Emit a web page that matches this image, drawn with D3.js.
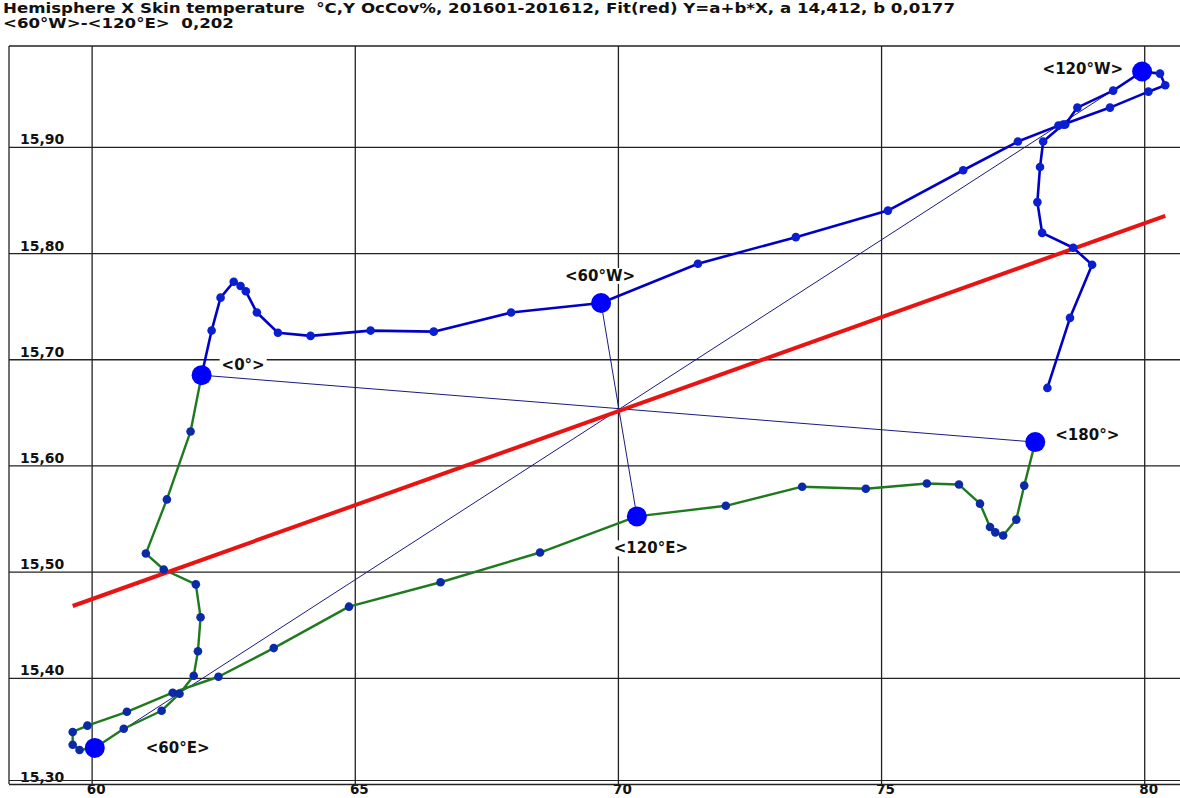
<!DOCTYPE html>
<html>
<head>
<meta charset="utf-8">
<script src="https://cdn.jsdelivr.net/npm/d3@7"></script>
<style>
  html, body { margin: 0; padding: 0; background: #fff; }
  svg { display: block; font-family: "DejaVu Sans", Verdana, sans-serif; font-weight: bold; }
  .title text { white-space: pre; }
</style>
</head>
<body>
<svg width="1180" height="798"></svg>
<script>
const titleLines = [
    "Hemisphere X Skin temperature  °C,Y OcCov%, 201601-201612, Fit(red) Y=a+b*X, a 14,412, b 0,0177",
    "<60°W>-<120°E>  0,202"
];

const xTicks = [60, 65, 70, 75, 80];
const yTicks = [15.30, 15.40, 15.50, 15.60, 15.70, 15.80, 15.90];

// fit Y = a + b*X
const fitA = 14.412;
const fitB = 0.0177;

// blue part: 0° -> 60°W -> 120°W -> towards 180°
const blueX = [62.09, 62.28, 62.45, 62.70, 62.83, 62.93, 63.14, 63.54, 64.16, 65.30, 66.50, 67.97,
               69.68, 71.52, 73.38, 75.13, 76.56, 77.60, 78.37, 78.50, 78.73, 79.41,
               79.96, 80.30, 80.40, 80.08, 79.35, 78.46, 78.08, 78.02, 77.97, 78.06, 78.65, 79.01, 78.59, 78.16];
const blueY = [15.685, 15.727, 15.758, 15.773, 15.769, 15.764, 15.744, 15.725, 15.722, 15.727, 15.726, 15.744,
               15.753, 15.790, 15.815, 15.840, 15.878, 15.905, 15.920, 15.921, 15.937, 15.953,
               15.971, 15.969, 15.958, 15.952, 15.937, 15.921, 15.905, 15.881, 15.848, 15.819, 15.805, 15.789, 15.739, 15.673];

// green part: 180° -> 120°E -> 60°E -> 0°
const greenX = [77.93, 77.72, 77.57, 77.32, 77.17, 77.07, 76.88, 76.48, 75.87, 74.71, 73.50, 72.05,
                70.36, 68.52, 66.63, 64.89, 63.46, 62.41, 61.54, 60.67, 59.92, 59.64, 59.64, 59.77,
                60.06, 60.61, 61.33, 61.67, 61.94, 62.02, 62.07, 61.98, 61.37, 61.03, 61.43, 61.88,
                62.09];
const greenY = [15.622, 15.581, 15.549, 15.534, 15.537, 15.542, 15.564, 15.582, 15.583, 15.578, 15.580, 15.562,
                15.552, 15.518, 15.490, 15.467, 15.428, 15.401, 15.386, 15.368, 15.355, 15.349, 15.337, 15.332,
                15.334, 15.352, 15.369, 15.385, 15.402, 15.425, 15.457, 15.488, 15.502, 15.517, 15.568, 15.632,
                15.685];

// labelled longitudes
const keyNames = ["<0°>", "<60°W>", "<120°W>", "<180°>", "<120°E>", "<60°E>"];
const keyX = [62.09, 69.68, 79.96, 77.93, 70.36, 60.06];
const keyY = [15.685, 15.753, 15.971, 15.622, 15.552, 15.334];
// opposite pairs joined by thin lines
const keyPairs = [[0, 3], [1, 4], [2, 5]];

const svg = d3.select("svg");
const plot = { left: 9, top: 46, bottom: 784, right: 1180 };

const x = d3.scaleLinear().domain([58.43, 80.68]).range([plot.left, plot.right]);
const y = d3.scaleLinear().domain([15.30, 15.995]).range([plot.bottom, plot.top]);

// title, squeezed to the width of the original
const title = svg.append("g").attr("class", "title");
titleLines.forEach((t, i) => {
    title.append("text")
        .attr("x", 3)
        .attr("y", 13 + i * 15)
        .attr("font-size", 13.5)
        .attr("fill", "#111")
        .text(t);
});
const len = title.select("text").node().getComputedTextLength();
const squeeze = 952 / len;
title.selectAll("text").each(function() {
    const w = this.getComputedTextLength();
    d3.select(this).attr("textLength", w * squeeze).attr("lengthAdjust", "spacingAndGlyphs");
});

// grid via axes
const gx = svg.append("g")
    .attr("transform", `translate(0,${plot.bottom})`)
    .call(d3.axisBottom(x).tickValues(xTicks).tickFormat(d3.format("d"))
        .tickSize(-(plot.bottom - plot.top)).tickPadding(4));
gx.select(".domain").remove();
gx.selectAll("line").attr("stroke", "#222").attr("stroke-width", 1.3);
gx.selectAll("text")
    .attr("font-family", "DejaVu Sans")
    .attr("font-weight", "bold")
    .attr("font-size", 13.5)
    .attr("fill", "#111")
    .attr("dx", 4)
    .attr("y", 0)
    .attr("dy", 10);

const gy = svg.append("g")
    .attr("transform", `translate(${plot.left},0)`)
    .call(d3.axisRight(y).tickValues(yTicks)
        .tickFormat(d => d3.format(".2f")(d).replace(".", ","))
        .tickSize(plot.right - plot.left));
gy.select(".domain").remove();
gy.selectAll("line").attr("stroke", "#222").attr("stroke-width", 1.3);
gy.selectAll("text")
    .attr("font-family", "DejaVu Sans")
    .attr("font-weight", "bold")
    .attr("font-size", 14)
    .attr("fill", "#111")
    .attr("x", 11)
    .attr("dy", -3)
    .attr("text-anchor", "start");

// frame
svg.append("line").attr("x1", plot.left).attr("x2", plot.right).attr("y1", plot.top).attr("y2", plot.top)
    .attr("stroke", "#222").attr("stroke-width", 1.3);
svg.append("line").attr("x1", plot.left).attr("x2", plot.left).attr("y1", plot.top).attr("y2", plot.bottom)
    .attr("stroke", "#222").attr("stroke-width", 1.3);
svg.append("line").attr("x1", plot.left).attr("x2", plot.right).attr("y1", plot.bottom - 3.5).attr("y2", plot.bottom - 3.5)
    .attr("stroke", "#222").attr("stroke-width", 1.2);

// thin lines between opposite longitudes
svg.selectAll(".pair")
    .data(keyPairs)
    .enter()
    .append("line")
    .attr("x1", d => x(keyX[d[0]]))
    .attr("y1", d => y(keyY[d[0]]))
    .attr("x2", d => x(keyX[d[1]]))
    .attr("y2", d => y(keyY[d[1]]))
    .attr("stroke", "#1a1a80")
    .attr("stroke-width", 1);

const blue = blueX.map((v, i) => [v, blueY[i]]);
const green = greenX.map((v, i) => [v, greenY[i]]);
const line = d3.line().x(d => x(d[0])).y(d => y(d[1]));

svg.append("path").attr("d", line(blue))
    .attr("fill", "none").attr("stroke", "#0000c8").attr("stroke-width", 2.6)
    .attr("stroke-linejoin", "round");
svg.append("path").attr("d", line(green))
    .attr("fill", "none").attr("stroke", "#1f7a1f").attr("stroke-width", 2.4)
    .attr("stroke-linejoin", "round");

// fit line over the x range of the data
const [xmin, xmax] = d3.extent(blueX.concat(greenX));
svg.append("line")
    .attr("x1", x(xmin)).attr("y1", y(fitA + fitB * xmin))
    .attr("x2", x(xmax)).attr("y2", y(fitA + fitB * xmax))
    .attr("stroke", "#e81414").attr("stroke-width", 4);

// dots
svg.selectAll(".dotB")
    .data(blue)
    .enter()
    .append("circle")
    .attr("cx", d => x(d[0]))
    .attr("cy", d => y(d[1]))
    .attr("r", 4.3)
    .style("fill", "#0a1fd0");
svg.selectAll(".dotG")
    .data(green)
    .enter()
    .append("circle")
    .attr("cx", d => x(d[0]))
    .attr("cy", d => y(d[1]))
    .attr("r", 4.3)
    .style("fill", "#0a2aa8");

svg.selectAll(".key")
    .data(keyNames)
    .enter()
    .append("circle")
    .attr("cx", (d, i) => x(keyX[i]))
    .attr("cy", (d, i) => y(keyY[i]))
    .attr("r", 10)
    .style("fill", "#0000ff");

// labels: offsets relative to each labelled point
const labelOffsets = [[20, -5, "start"], [-1, -22, "middle"], [-19, 3, "end"], [20, -2, "start"], [14, 37, "middle"], [51, 5, "start"]];
const lab = svg.append("g");
keyNames.forEach((name, i) => {
    const [dx, dy, anchor] = labelOffsets[i];
    const t = lab.append("text")
        .attr("x", x(keyX[i]) + dx)
        .attr("y", y(keyY[i]) + dy)
        .attr("text-anchor", anchor)
        .attr("font-size", 15)
        .attr("fill", "#111")
        .text(name);
    const bb = t.node().getBBox();
    lab.insert("rect", "text")
        .attr("x", bb.x - 2).attr("y", bb.y + 1)
        .attr("width", bb.width + 4).attr("height", bb.height - 2)
        .attr("fill", "#fff");
});
</script>
</body>
</html>
